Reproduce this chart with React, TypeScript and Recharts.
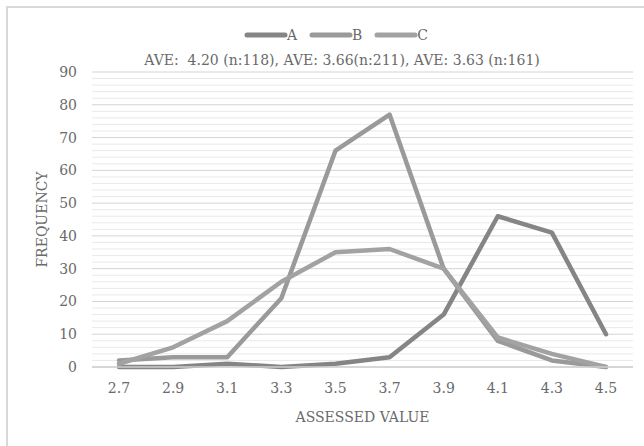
import React from 'react';
import {
  LineChart,
  Line,
  XAxis,
  YAxis,
  CartesianGrid,
  Legend,
} from 'recharts';

// Assessed value bins (x axis)
const categories = ['2.7', '2.9', '3.1', '3.3', '3.5', '3.7', '3.9', '4.1', '4.3', '4.5'];

// Frequencies per bin for each group
const seriesA = [0, 0, 1, 0, 1, 3, 16, 46, 41, 10];
const seriesB = [2, 3, 3, 21, 66, 77, 30, 8, 2, 0];
const seriesC = [1, 6, 14, 26, 35, 36, 30, 9, 4, 0];

const seriesNames = ['A', 'B', 'C'];
const seriesColors = ['#858585', '#9a9a9a', '#a2a2a2'];

// Labelled y ticks; the axis also carries unlabelled ticks every 2 units for the grid
const yTicks = [0, 10, 20, 30, 40, 50, 60, 70, 80, 90];
const gridTicks = yTicks.slice(0, -1).flatMap((t) => [t, t + 2, t + 4, t + 6, t + 8]).concat([90]);

const subtitle = 'AVE:  4.20 (n:118), AVE: 3.66(n:211), AVE: 3.63 (n:161)';

const data = categories.map((x, i) => ({
  x,
  A: seriesA[i],
  B: seriesB[i],
  C: seriesC[i],
}));

const FONT = 'DejaVu Serif, serif';
const TEXT = '#6a6a6a';
const FS = 14;
const LEGEND_H = 45;

const renderLegend = () => (
  <div style={{ fontFamily: FONT, color: TEXT, fontSize: FS, height: LEGEND_H }}>
    <div
      style={{
        display: 'flex',
        justifyContent: 'center',
        alignItems: 'center',
        height: 22,
      }}
    >
      {seriesNames.map((name, i) => (
        <div key={name} style={{ display: 'flex', alignItems: 'center', marginRight: 12 }}>
          <svg width={44} height={10}>
            <line
              x1={3}
              y1={5}
              x2={41}
              y2={5}
              stroke={seriesColors[i]}
              strokeWidth={5}
              strokeLinecap="round"
            />
          </svg>
          <span style={{ marginLeft: -1 }}>{name}</span>
        </div>
      ))}
    </div>
    <div style={{ textAlign: 'center', whiteSpace: 'pre', marginTop: 6 }}>{subtitle}</div>
  </div>
);

// only multiples of 10 get a label
const YTick = (props: any) => {
  const { x, y, payload } = props;
  if (!yTicks.includes(payload.value)) return <g />;
  return (
    <text
      x={x}
      y={y}
      textAnchor="end"
      dominantBaseline="central"
      fill={TEXT}
      fontFamily={FONT}
      fontSize={FS}
    >
      {payload.value}
    </text>
  );
};

// every fifth grid line (multiples of 10) is a major line
const GridLine = (props: any) => {
  const { x1, x2, y1, y2, index } = props;
  const major = index % 5 === 0;
  return (
    <line
      key={`g-${index}`}
      x1={x1}
      x2={x2}
      y1={y1}
      y2={y2}
      stroke={major ? '#d4d4d4' : '#e9e9e9'}
      strokeWidth={1}
      fill="none"
    />
  );
};

export default function App() {
  return (
    <div style={{ position: 'absolute', left: 0, top: 0, width: 644, height: 446, background: '#fff', overflow: 'hidden' }}>
      <div
        style={{
          position: 'absolute',
          left: 6,
          top: 6,
          width: 700,
          height: 500,
          border: '2px solid #d9d9d9',
          boxSizing: 'border-box',
        }}
      />
      <LineChart
        width={644}
        height={446}
        data={data}
        margin={{ top: 72 - LEGEND_H, right: 11, bottom: 49, left: 42 }}
        style={{ position: 'absolute', left: 0, top: 0 }}
      >
        <CartesianGrid horizontal={GridLine} vertical={false} />
        <XAxis
          dataKey="x"
          padding={{ left: 27, right: 27 }}
          height={30}
          axisLine={{ stroke: '#cfcfcf', strokeWidth: 1.5 }}
          tickLine={false}
          tickSize={0}
          tickMargin={16}
          tick={{ fill: TEXT, fontFamily: FONT, fontSize: FS }}
          interval={0}
          label={({ viewBox }: any) => (
            <text
              x={viewBox.x + viewBox.width / 2}
              y={viewBox.y + 50}
              textAnchor="middle"
              dominantBaseline="central"
              fill={TEXT}
              fontFamily={FONT}
              fontSize={FS}
            >
              ASSESSED VALUE
            </text>
          )}
        />
        <YAxis
          domain={[0, 90]}
          ticks={gridTicks}
          width={50}
          axisLine={false}
          tickLine={false}
          tickSize={0}
          tickMargin={15}
          interval={0}
          tick={YTick}
          label={({ viewBox }: any) => {
            const cx = viewBox.x;
            const cy = viewBox.y + viewBox.height / 2;
            return (
              <text
                x={cx}
                y={cy}
                transform={`rotate(-90, ${cx}, ${cy})`}
                textAnchor="middle"
                dominantBaseline="central"
                fill={TEXT}
                fontFamily={FONT}
                fontSize={FS}
              >
                FREQUENCY
              </text>
            );
          }}
        />
        <Legend
          verticalAlign="top"
          content={renderLegend}
          wrapperStyle={{ top: 24, left: 0, width: 684, height: LEGEND_H }}
        />
        {seriesNames.map((name, i) => (
          <Line
            key={name}
            type="linear"
            dataKey={name}
            stroke={seriesColors[i]}
            strokeWidth={4.5}
            strokeLinecap="round"
            strokeLinejoin="round"
            dot={false}
            activeDot={false}
            isAnimationActive={false}
          />
        ))}
      </LineChart>
    </div>
  );
}
